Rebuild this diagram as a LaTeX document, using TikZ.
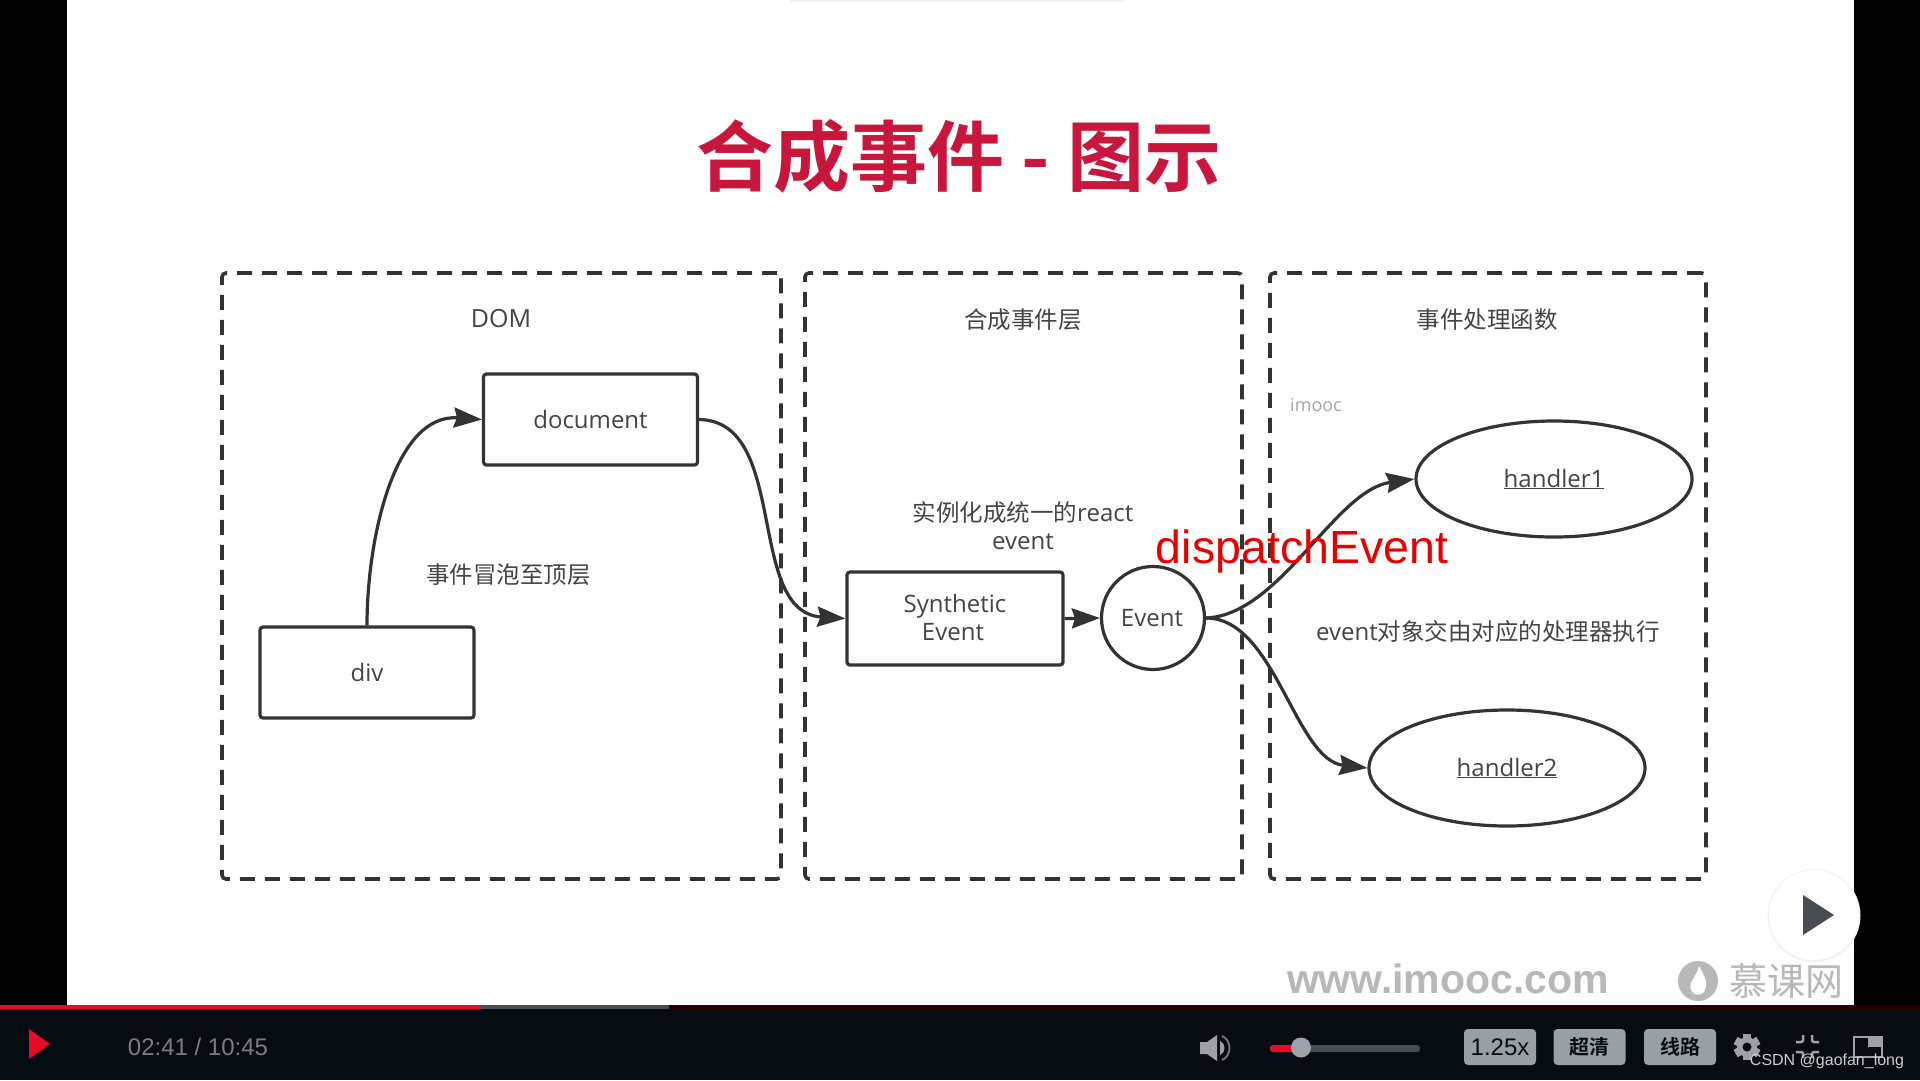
\documentclass[tikz,border=0pt]{standalone}
\usepackage{fontspec}
\setmainfont{Open Sans}
\newfontfamily\cjk{Noto Sans CJK SC}
\newfontfamily\cjkb{Noto Sans CJK SC Bold}
\newfontfamily\arial{Liberation Sans}
\newcommand{\fsz}[1]{\fontsize{#1}{#1}\selectfont}
\usetikzlibrary{arrows.meta,shapes.geometric}
\definecolor{ink}{HTML}{333333}
\definecolor{txt}{HTML}{444444}
\definecolor{barbg}{HTML}{070C12}
\definecolor{barred}{HTML}{E90A28}
\definecolor{titlered}{HTML}{C8163C}
\definecolor{btn}{HTML}{9A9EA6}
\definecolor{ctl}{HTML}{9EA2A8}
\definecolor{wm}{HTML}{B8B8B8}
\definecolor{slate}{HTML}{484D54}
\definecolor{timec}{HTML}{7A7E84}
\tikzset{
  x=1pt,y=-1pt,
  zone/.style={draw=ink,line width=3.6pt,dash pattern=on 15pt off 10pt,rounded corners=4pt,fill=none},
  nbox/.style={draw=ink,line width=3.2pt,rounded corners=3pt,inner sep=0pt,fill=white,align=center,text=txt},
  oval/.style={draw=ink,line width=3.2pt,ellipse,inner sep=0pt,minimum width=276pt,minimum height=116pt,text=txt},
  conn/.style={draw=ink,line width=3.2pt,-{Stealth[length=28pt,width=20pt,inset=3pt]}},
  lab/.style={text=txt,inner sep=0pt,align=center},
  button/.style={fill=btn,rounded corners=4pt,minimum width=72pt,minimum height=36pt,inner sep=0pt,text=barbg},
}
\begin{document}
\begin{tikzpicture}
\useasboundingbox (0,0) rectangle (1920,1080);
\fill[black] (0,0) rectangle (1920,1080);
\fill[white] (67,0) rectangle (1854,1005);
\fill[black!5] (790,0) rectangle (1125,2);
% title
\node[text=titlered,inner sep=0pt] (title) at (959,156) {\cjkb\fsz{77}合成事件 - 图示};
% zones
\node[zone,minimum width=559pt,minimum height=606pt,inner sep=0pt] (dom) at (501.5,576) {};
\node[zone,minimum width=437pt,minimum height=606pt,inner sep=0pt] (layer) at (1023.5,576) {};
\node[zone,minimum width=436pt,minimum height=606pt,inner sep=0pt] (handlers) at (1488,576) {};
% labels
\node[lab] (domlab) at (501,319) {\fsz{25}DOM};
\node[lab] (layerlab) at (1023,320) {\cjk\fsz{23.5}合成事件层};
\node[lab] (hlab) at (1487,320) {\cjk\fsz{23.5}事件处理函数};
\node[text=black!35,inner sep=0pt] (imooc) at (1316,405) {\fsz{18}imooc};
\node[lab] (bubble) at (508.5,575) {\cjk\fsz{23.5}事件冒泡至顶层};
\node[lab] (inst) at (1023,513) {{\cjk\fsz{23.5}实例化成统一的}\fsz{24}react};
\node[lab] (inst2) at (1023,542) {\fsz{24}event};
\node[lab] (exec) at (1488,632) {\fsz{24}event{\cjk\fsz{23.5}对象交由对应的处理器执行}};
% nodes
\node[nbox,minimum width=214pt,minimum height=91pt] (document) at (590.5,419.5) {\fsz{24}document};
\node[nbox,minimum width=214pt,minimum height=91pt] (div) at (367,672.5) {\fsz{24}div};
\node[nbox,minimum width=216pt,minimum height=93pt] (syn) at (955,618.5) {};
\node[lab] (syn1) at (955,606) {\fsz{24}Synthetic};
\node[lab] (syn2) at (953,632) {\fsz{24}Event};
\node[nbox,circle,minimum size=103pt] (event) at (1153,618) {};
\node[lab] (eventlab) at (1152,618) {\fsz{24}Event};
\node[oval] (h1) at (1554,479) {\fsz{24}\underline{handler1}};
\node[oval] (h2) at (1507,768) {\fsz{24}\underline{handler2}};
% connectors
\draw[conn] (div.north) to[out=90,in=176,looseness=0.95] (document.west);
\draw[conn] (document.east) .. controls (790,421) and (745,612) .. (syn.west);
\draw[conn] (syn.east) -- (event.west);
\draw[conn] (event.east) .. controls (1280,615) and (1335,490) .. (h1.west);
\draw[conn] (event.east) .. controls (1275,618) and (1295,760) .. (h2.west);
% red
\node[text={rgb,255:red,230;green,0;blue,0},inner sep=0pt] (dispatch) at (1302,551) {\arial\fsz{46.5}dispatchEvent};
% watermark
\node[text=wm,inner sep=0pt,anchor=base] (www) at (1448,993) {\arial\bfseries\fsz{41}www.imooc.com};
\fill[wm] (1698,981) ellipse (20pt and 20pt);
\fill[white] (1699,966) .. controls (1706,978) and (1708,984) .. (1704,992) .. controls (1700,996) and (1694,996) .. (1691,990) .. controls (1688,982) and (1696,978) .. cycle;
\node[text=wm,inner sep=0pt] (mk) at (1786,981) {\cjk\fsz{38}慕课网};
% play overlay
\fill[black!5] (1814,915.5) circle (46.5pt);
\fill[white] (1814,915) circle (45pt);
\fill[slate] (1803,895) -- (1834,915) -- (1803,935) -- cycle;
% bottom bar
\fill[barbg] (0,1005) rectangle (1920,1080);
\fill[black!85!red] (669,1005) rectangle (1920,1009);
\fill[slate] (481,1005) rectangle (669,1009);
\fill[barred] (0,1005) rectangle (481,1009);
\fill[barred] (29,1029) -- (50,1044) -- (29,1059) -- cycle;
\node[text=timec,inner sep=0pt] (time) at (198,1047) {\arial\fsz{24}02:41 / 10:45};
% volume
\fill[ctl] (1200,1042) -- (1207,1042) -- (1217,1035) -- (1217,1061) -- (1207,1054) -- (1200,1054) -- cycle;
\fill[ctl] (1220,1041) .. controls (1226,1043) and (1226,1053) .. (1220,1055) -- cycle;
\draw[ctl!70!black,line width=2pt] (1222,1036) .. controls (1232,1040) and (1232,1056) .. (1222,1060);
% slider
\fill[slate,rounded corners=3pt] (1270,1045) rectangle (1420,1052);
\fill[barred,rounded corners=3pt] (1270,1045) rectangle (1301,1052);
\fill[ctl] (1301,1047.5) circle (10pt);
% buttons
\node[button] (speed) at (1500,1047) {\arial\fsz{24}1.25x};
\node[button] (hd) at (1589.5,1047) {\cjkb\fsz{20}超清};
\node[button] (route) at (1680,1047) {\cjkb\fsz{20}线路};
% gear
\foreach \a in {0,60,...,300}{\fill[ctl,rotate around={\a:(1747,1047)}] (1743,1034) rectangle (1751,1060);}
\fill[ctl] (1747,1047) circle (10pt);
\fill[barbg] (1747,1047) circle (4.5pt);
% exit fullscreen
\draw[ctl,line width=2.5pt,rounded corners=2pt] (1803,1035) -- (1803,1042) -- (1796,1042);
\draw[ctl,line width=2.5pt,rounded corners=2pt] (1812,1035) -- (1812,1042) -- (1819,1042);
\draw[ctl,line width=2.5pt,rounded corners=2pt] (1803,1058) -- (1803,1052) -- (1796,1052);
\draw[ctl,line width=2.5pt,rounded corners=2pt] (1812,1058) -- (1812,1052) -- (1819,1052);
% pip
\draw[ctl,line width=2.5pt] (1854,1037) rectangle (1882,1057);
\fill[ctl] (1868,1037) rectangle (1882,1047);
% csdn
\node[text=white!80!black,inner sep=0pt] (csdn) at (1827,1061) {\arial\fsz{16}CSDN @gaofan\_long};
\end{tikzpicture}
\end{document}
